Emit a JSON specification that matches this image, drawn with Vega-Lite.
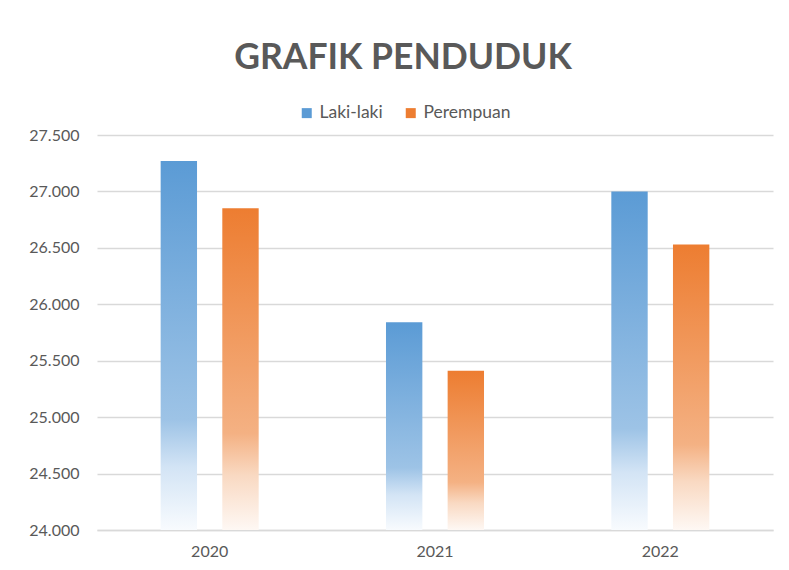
{
  "$schema": "https://vega.github.io/schema/vega-lite/v6.json",
  "width": 676,
  "height": 395,
  "autosize": {"type": "none"},
  "padding": {"left": 97, "top": 135, "right": 16, "bottom": 40},
  "background": "white",
  "title": {
    "text": "GRAFIK PENDUDUK",
    "font": "Lato",
    "fontSize": 35.5,
    "fontWeight": "bold",
    "color": "#595959",
    "anchor": "middle",
    "frame": "group",
    "dx": -32,
    "offset": 28
  },
  "data": {
    "values": [
      {"year": "2020", "series": "Laki-laki", "value": 27270},
      {"year": "2020", "series": "Perempuan", "value": 26850},
      {"year": "2021", "series": "Laki-laki", "value": 25840},
      {"year": "2021", "series": "Perempuan", "value": 25410},
      {"year": "2022", "series": "Laki-laki", "value": 27000},
      {"year": "2022", "series": "Perempuan", "value": 26530}
    ]
  },
  "encoding": {
    "x": {
      "field": "year",
      "type": "nominal",
      "scale": {"paddingInner": 0.565, "paddingOuter": 0.2825},
      "axis": {
        "title": null,
        "labelAngle": 0,
        "labelFont": "Lato",
        "labelFontSize": 16,
        "labelColor": "#595959",
        "labelPadding": 13,
        "ticks": false,
        "domain": true,
        "domainColor": "#D9D9D9",
        "domainWidth": 1.5,
        "grid": false
      }
    },
    "xOffset": {
      "field": "series",
      "type": "nominal",
      "scale": {"domain": ["Laki-laki", "Perempuan"], "paddingInner": 0.41, "paddingOuter": 0}
    },
    "y": {
      "field": "value",
      "type": "quantitative",
      "scale": {"domain": [24000, 27500], "zero": false, "nice": false},
      "axis": {
        "title": null,
        "values": [24000, 24500, 25000, 25500, 26000, 26500, 27000, 27500],
        "labelExpr": "replace(format(datum.value, ','), ',', '.')",
        "labelFont": "Lato",
        "labelFontSize": 16,
        "labelColor": "#595959",
        "labelPadding": 18,
        "ticks": false,
        "domain": false,
        "grid": true,
        "gridColor": "#D9D9D9",
        "gridWidth": 1.3
      }
    },
    "y2": {"datum": 24000}
  },
  "layer": [
    {
      "mark": {"type": "bar", "opacity": 0},
      "encoding": {
        "color": {
          "field": "series",
          "type": "nominal",
          "scale": {"domain": ["Laki-laki", "Perempuan"], "range": ["#5B9BD5", "#ED7D31"]},
          "legend": {
            "title": null,
            "orient": "none",
            "legendX": 201,
            "legendY": -31,
            "direction": "horizontal",
            "symbolType": "square",
            "symbolSize": 100,
            "symbolOpacity": 1,
            "symbolStrokeWidth": 0,
            "labelFont": "Lato",
            "labelFontSize": 17.5,
            "labelColor": "#595959",
            "labelOffset": 4,
            "columnPadding": 19
          }
        }
      }
    },
    {
      "transform": [{"filter": "datum.series === 'Laki-laki'"}],
      "mark": {
        "type": "bar",
        "fill": {
          "gradient": "linear",
          "x1": 0, "y1": 0, "x2": 0, "y2": 1,
          "stops": [
            {"offset": 0, "color": "#5B9BD5"},
            {"offset": 0.7, "color": "#9DC3E6"},
            {"offset": 0.83, "color": "#D3E4F5"},
            {"offset": 1, "color": "#F8FBFE"}
          ]
        }
      }
    },
    {
      "transform": [{"filter": "datum.series === 'Perempuan'"}],
      "mark": {
        "type": "bar",
        "fill": {
          "gradient": "linear",
          "x1": 0, "y1": 0, "x2": 0, "y2": 1,
          "stops": [
            {"offset": 0, "color": "#ED7D31"},
            {"offset": 0.7, "color": "#F4B183"},
            {"offset": 0.83, "color": "#F9D9C2"},
            {"offset": 1, "color": "#FEF8F4"}
          ]
        }
      }
    }
  ],
  "config": {
    "view": {"stroke": null}
  }
}
